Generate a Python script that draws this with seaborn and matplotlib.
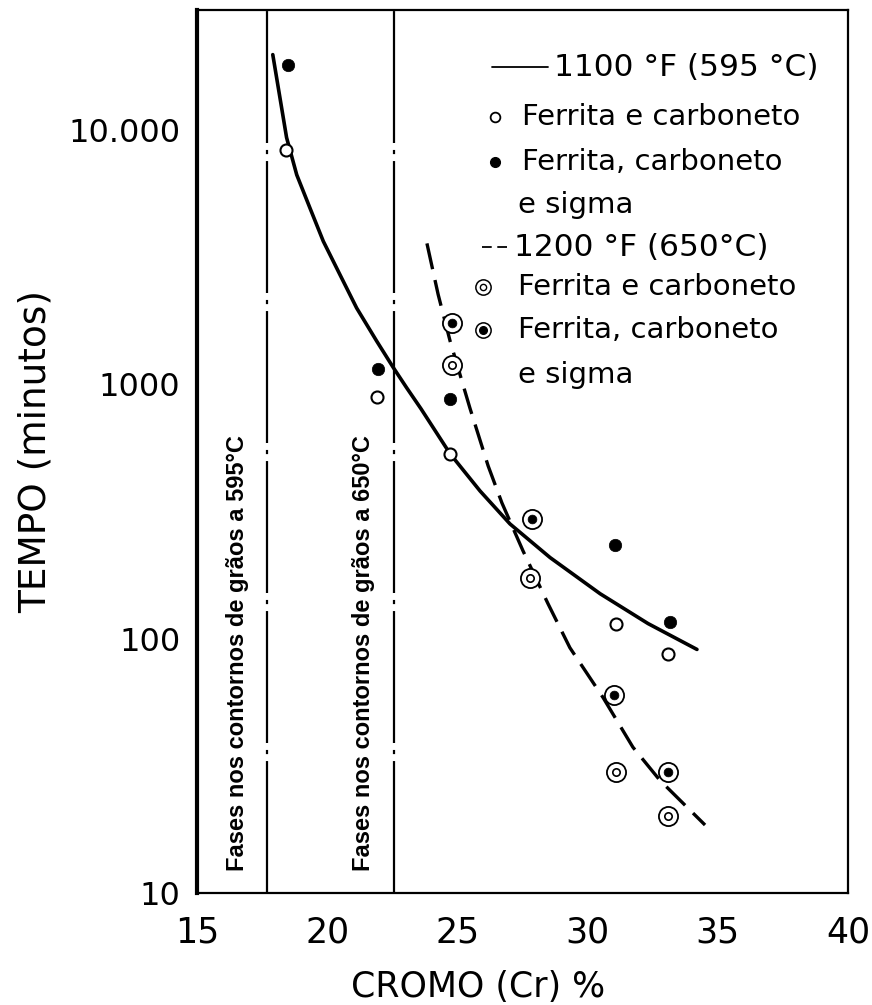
import numpy as np
import pandas as pd
import matplotlib.pyplot as plt
import seaborn as sns
from matplotlib.lines import Line2D
from matplotlib.ticker import NullLocator, FixedLocator, FixedFormatter

# 1100 F (595 C) points
cr_1100_fc = [18.4, 21.9, 24.7, 31.1, 33.1]
t_1100_fc = [8300, 890, 530, 114, 87]
cr_1100_sig = [18.5, 21.95, 24.7, 31.05, 33.15]
t_1100_sig = [18000, 1150, 875, 234, 116]

# 1200 F (650 C) points
cr_1200_fc = [24.8, 27.8, 31.1, 33.1]
t_1200_fc = [1190, 173, 30, 20]
cr_1200_sig = [24.8, 27.85, 31.0, 33.1]
t_1200_sig = [1730, 296, 60, 30]

# curves
curve_1100_cr = [17.91, 18.44, 18.83, 19.34, 19.85, 20.49, 21.13, 21.90,
                 22.54, 23.05, 23.6, 24.72, 25.87, 27.02, 28.56, 30.48, 32.32, 34.2]
curve_1100_t = [19700, 9300, 6640, 4910, 3640, 2690, 1990, 1475,
                 1160, 967, 800, 532, 380, 282, 208, 150, 114.5, 90.6]
curve_1200_cr = [23.83, 24.26, 24.72, 25.48, 26.18, 26.71, 27.52, 28.48, 29.32,
                 30.59, 31.74, 32.78, 34.51]
curve_1200_t = [3570, 2250, 1475, 805, 477, 341, 221, 137, 92,
                58.7, 37.4, 27.7, 18.5]

limits_cr = [17.7, 22.55]
limit_labels = ['Fases nos contornos de grãos a 595°C', 'Fases nos contornos de grãos a 650°C']

xticks = [15, 20, 25, 30, 35, 40]
yticks = [10, 100, 1000, 10000]
ytick_labels = ['10', '100', '1000', '10.000']

sns.set_theme(style='white')
plt.rcParams['font.family'] = ['DejaVu Sans']
plt.rcParams['lines.scale_dashes'] = False
plt.rcParams['text.color'] = 'black'
plt.rcParams['axes.labelcolor'] = 'black'
plt.rcParams['xtick.color'] = 'black'
plt.rcParams['ytick.color'] = 'black'

fig = plt.figure(figsize=(8.72, 10.05), dpi=100)
ax = fig.add_axes([197/872, 1-893/1005, 651/872, 883/1005])

sns.lineplot(x=curve_1100_cr, y=curve_1100_t, ax=ax, color='black', lw=2.6,
             sort=False, estimator=None)
sns.lineplot(x=curve_1200_cr, y=curve_1200_t, ax=ax, color='black', lw=2.4,
             sort=False, estimator=None, linestyle=(0, (19, 8)))

for xv in limits_cr:
    ax.axvline(xv, color='black', lw=1.6, linestyle=(0, (95, 5, 3, 5)))

sns.scatterplot(x=cr_1100_fc, y=t_1100_fc, ax=ax, s=75, facecolor='white',
                edgecolor='black', linewidth=1.5, zorder=5)
sns.scatterplot(x=cr_1100_sig, y=t_1100_sig, ax=ax, s=80, color='black',
                edgecolor='black', linewidth=0.5, zorder=5)
sns.scatterplot(x=cr_1200_fc, y=t_1200_fc, ax=ax, s=190, facecolor='white',
                edgecolor='black', linewidth=1.3, zorder=5)
sns.scatterplot(x=cr_1200_fc, y=t_1200_fc, ax=ax, s=28, facecolor='white',
                edgecolor='black', linewidth=1.2, zorder=6)
sns.scatterplot(x=cr_1200_sig, y=t_1200_sig, ax=ax, s=190, facecolor='white',
                edgecolor='black', linewidth=1.3, zorder=5)
sns.scatterplot(x=cr_1200_sig, y=t_1200_sig, ax=ax, s=40, color='black',
                edgecolor='black', linewidth=0.5, zorder=6)

ax.set_yscale('log')
ax.set_xlim(15, 40)
ax.set_ylim(10, 29500)
ax.xaxis.set_major_locator(FixedLocator(xticks))
ax.yaxis.set_major_locator(FixedLocator(yticks))
ax.yaxis.set_major_formatter(FixedFormatter(ytick_labels))
ax.yaxis.set_minor_locator(NullLocator())
ax.tick_params(axis='both', direction='in', length=11, width=1.2, color='black')
ax.tick_params(axis='x', labelsize=25, pad=16)
ax.tick_params(axis='y', labelsize=23, pad=12)

for side in ['top', 'right', 'bottom']:
    ax.spines[side].set_color('black')
    ax.spines[side].set_linewidth(1.6)
ax.spines['left'].set_color('black')
ax.spines['left'].set_linewidth(3)

ax.set_xlabel('CROMO (Cr) %', fontsize=25, va='center')
ax.xaxis.set_label_coords(0.432, -0.106)
ax.set_ylabel('TEMPO (minutos)', fontsize=27)
ax.yaxis.set_label_coords(-0.22, 0.5)

for lab, xt in zip(limit_labels, [16.55, 21.4]):
    ax.text(xt, 88, lab, rotation=90, ha='center', va='center', fontsize=17,
            fontweight='bold', family=['Liberation Sans', 'DejaVu Sans'])

# key in the upper right
def fx(px):
    return px / 872
def fy(py):
    return 1 - py / 1005

fs = 21
fig.add_artist(Line2D([fx(492), fx(548)], [fy(67), fy(67)], color='black', lw=1.3))
fig.text(fx(554), fy(67), '1100 °F (595 °C)', fontsize=22.5, va='center')
fig.add_artist(Line2D([fx(495)], [fy(117)], marker='o', ms=7, mfc='white', mec='black', mew=1.3))
fig.text(fx(522), fy(117), 'Ferrita e carboneto', fontsize=fs, va='center')
fig.add_artist(Line2D([fx(495)], [fy(162)], marker='o', ms=7, mfc='black', mec='black'))
fig.text(fx(522), fy(162), 'Ferrita, carboneto', fontsize=fs, va='center')
fig.text(fx(518), fy(205), 'e sigma', fontsize=fs, va='center')
fig.add_artist(Line2D([fx(482), fx(507)], [fy(247), fy(247)], color='black', lw=1.3,
                      linestyle=(0, (7, 4))))
fig.text(fx(514), fy(247), '1200 °F (650°C)', fontsize=22.5, va='center')
fig.add_artist(Line2D([fx(483)], [fy(287)], marker='o', ms=11, mfc='white', mec='black', mew=1.1))
fig.add_artist(Line2D([fx(483)], [fy(287)], marker='o', ms=4.5, mfc='white', mec='black', mew=1.0))
fig.text(fx(518), fy(287), 'Ferrita e carboneto', fontsize=fs, va='center')
fig.add_artist(Line2D([fx(483)], [fy(330)], marker='o', ms=11, mfc='white', mec='black', mew=1.1))
fig.add_artist(Line2D([fx(483)], [fy(330)], marker='o', ms=5.5, mfc='black', mec='black'))
fig.text(fx(518), fy(330), 'Ferrita, carboneto', fontsize=fs, va='center')
fig.text(fx(518), fy(375), 'e sigma', fontsize=fs, va='center')

fig.savefig('out.png', dpi=100, facecolor='white')
